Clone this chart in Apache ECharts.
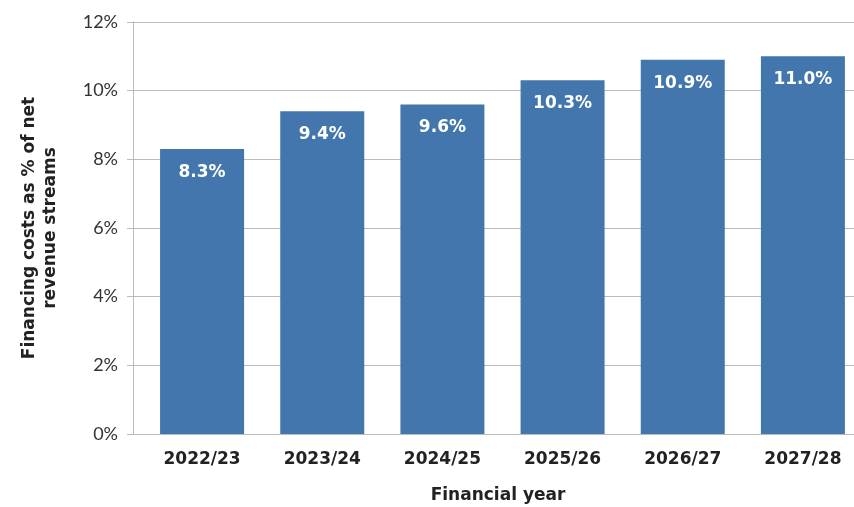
<!DOCTYPE html>
<html>
<head>
<meta charset="utf-8">
<script src="https://cdn.jsdelivr.net/npm/echarts@6/dist/echarts.min.js"></script>
<style>
html,body{margin:0;padding:0;background:#fff;}
#main{width:854px;height:507px;}
</style>
</head>
<body>
<div id="main"></div>
<script>
var years = ['2022/23', '2023/24', '2024/25', '2025/26', '2026/27', '2027/28'];
var costs = [8.3, 9.4, 9.6, 10.3, 10.9, 11.0];
var yTicks = [0, 2, 4, 6, 8, 10, 12];

var boldFont = 'DejaVu Sans';
var tickFont = 'Lato';

echarts.init(document.getElementById('main')).setOption({
    animation: false,
    grid: [
        // bars
        { left: 142, width: 721, top: 22, bottom: 73, outerBoundsMode: 'none' },
        // axis + gridlines
        { left: 133, right: 0, top: 22, bottom: 73, outerBoundsMode: 'none' }
    ],
    xAxis: [{
        gridIndex: 0,
        type: 'category',
        data: years,
        axisLine: { show: false },
        axisTick: { show: false },
        axisLabel: {
            margin: 17,
            fontFamily: boldFont,
            fontWeight: 'bold',
            fontSize: 17,
            color: '#222'
        }
    }, {
        gridIndex: 1,
        type: 'value',
        show: false,
        min: 0,
        max: 1
    }],
    yAxis: [{
        gridIndex: 0,
        type: 'value',
        min: 0,
        max: 12,
        interval: 2,
        show: false
    }, {
        gridIndex: 1,
        type: 'value',
        min: yTicks[0],
        max: yTicks[yTicks.length - 1],
        interval: 2,
        axisLine: { show: true, lineStyle: { color: '#bbb', width: 1 } },
        axisTick: { show: true, length: 6, lineStyle: { color: '#bbb' } },
        splitLine: { show: true, lineStyle: { color: '#bbb', width: 1 } },
        axisLabel: {
            margin: 15,
            fontFamily: tickFont,
            fontSize: 18,
            color: '#333',
            formatter: '{value}%'
        },
        name: 'Financing costs as % of net\nrevenue streams',
        nameLocation: 'middle',
        nameGap: 72,
        nameTextStyle: {
            fontFamily: boldFont,
            fontWeight: 'bold',
            fontSize: 17,
            color: '#222',
            lineHeight: 21
        }
    }],
    graphic: [{
        type: 'text',
        x: 498,
        y: 487,
        style: {
            text: 'Financial year',
            textAlign: 'center',
            textVerticalAlign: 'top',
            fontFamily: boldFont,
            fontWeight: 'bold',
            fontSize: 17,
            fill: '#222'
        }
    }],
    series: [{
        type: 'bar',
        xAxisIndex: 0,
        yAxisIndex: 0,
        data: costs,
        barWidth: 84,
        itemStyle: { color: '#4276AC' },
        label: {
            show: true,
            position: 'insideTop',
            distance: 15,
            fontFamily: boldFont,
            fontWeight: 'bold',
            fontSize: 17,
            color: '#fff',
            formatter: function (p) { return p.value.toFixed(1) + '%'; }
        }
    }]
});
</script>
</body>
</html>
